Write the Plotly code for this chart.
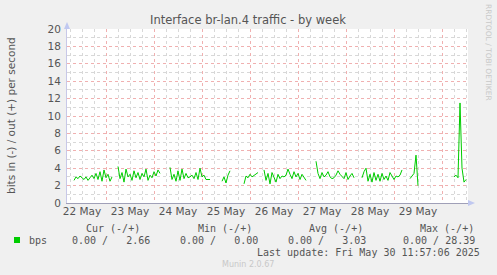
import pandas as pd
import plotly.graph_objects as go

# ---- data (hourly samples, bits/s out) ----
seg_starts = ["2025-05-22 08:00", "2025-05-23 06:00", "2025-05-24 08:00", "2025-05-25 10:00",
              "2025-05-25 21:00", "2025-05-26 07:00", "2025-05-27 09:00", "2025-05-28 08:00",
              "2025-05-29 08:00", "2025-05-30 06:00"]
seg_values = [
    [2.6, 3.0, 2.8, 3.1, 2.9, 2.7, 3.0, 2.6, 2.9, 3.2, 2.8, 3.4, 2.7, 3.6, 2.5, 3.8, 2.9, 3.3, 2.5, 3.0],
    [4.2, 2.8, 3.5, 2.4, 3.9, 3.0, 3.3, 2.6, 3.7, 2.9, 3.5, 2.7, 3.4, 3.0, 3.9, 2.6, 3.2, 2.9, 3.6, 3.1, 3.8, 3.4],
    [4.1, 2.7, 3.3, 2.5, 3.7, 2.6, 3.9, 2.8, 3.4, 2.9, 3.0, 3.2, 2.8, 3.5, 2.7, 4.0, 3.0, 3.2, 2.7, 2.7, 2.7],
    [2.5, 3.0, 2.3, 3.2, 3.7],
    [2.2, 3.1, 2.9, 3.3, 3.0, 3.2, 3.4, 3.5],
    [3.8, 2.6, 3.4, 2.2, 3.5, 3.0, 2.4, 3.3, 2.8, 3.1, 3.0, 3.2, 3.9, 3.3, 2.8, 3.6, 3.0, 3.4, 2.7, 3.3, 2.9, 2.6],
    [4.8, 3.4, 2.8, 3.5, 3.0, 3.2, 3.6, 3.0, 2.8, 2.9, 3.2, 3.7, 3.3, 3.1, 2.8, 3.5, 2.7, 3.1, 3.4, 2.9],
    [2.9, 3.6, 4.0, 2.5, 3.3, 2.4, 3.5, 2.6, 3.3, 2.5, 3.4, 2.7, 3.1, 2.6, 3.5, 3.0, 2.7, 3.1, 3.0, 3.2, 3.8],
    [2.8, 3.1, 3.4, 5.5, 2.0],
    [3.0, 3.2, 2.9, 11.5, 4.0, 2.4, 2.7],
]
day_labels = ["22 May", "23 May", "24 May", "25 May", "26 May", "27 May", "28 May", "29 May"]
day_label_pos = ["2025-05-22 12:00", "2025-05-23 12:00", "2025-05-24 12:00", "2025-05-25 12:00",
                 "2025-05-26 12:00", "2025-05-27 12:00", "2025-05-28 12:00", "2025-05-29 12:00"]
x_range = ["2025-05-22 04:30", "2025-05-30 13:00"]
y_ticks = [0, 2, 4, 6, 8, 10, 12, 14, 16, 18, 20]
legend_cur = "0.00 /   2.66"
legend_min = "0.00 /   0.00"
legend_avg = "0.00 /   3.03"
legend_max = "0.00 / 28.39"

xs, ys = [], []
for start, vals in zip(seg_starts, seg_values):
    t = pd.date_range(start, periods=len(vals), freq="h")
    xs += list(t) + [None]
    ys += list(vals) + [None]

W, H = 497, 275
L, R, T, B = 67, 468, 29, 203

def px(x):
    return (x - L) / (R - L)

def py(y):
    return (B - y) / (B - T)

fig = go.Figure()
fig.add_trace(go.Scatter(x=xs, y=ys, mode="lines", line=dict(color="#00CC00", width=1),
                         connectgaps=False, showlegend=False, hoverinfo="skip"))
# invisible trace for label axis
fig.add_trace(go.Scatter(x=[x_range[0]], y=[None], xaxis="x2", showlegend=False, hoverinfo="skip"))

tick_font = dict(family="DejaVu Sans", size=10.5, color="#555555")
fig.update_layout(
    width=W, height=H,
    margin=dict(l=L, r=W - R, t=T, b=H - B),
    paper_bgcolor="#F0F0F0", plot_bgcolor="#FFFFFF",
    xaxis=dict(type="date", range=x_range, tick0="2025-05-22 00:00", dtick=86400000,
               showticklabels=False, showgrid=True, gridcolor="#F0B0B0", griddash="dot", gridwidth=1,
               minor=dict(dtick=6 * 3600000, showgrid=True, gridcolor="#D8D8D8", griddash="dot"),
               showline=True, linecolor="#A0A0B8", linewidth=1, zeroline=False, ticks=""),
    xaxis2=dict(type="date", range=x_range, overlaying="x", anchor="y", side="bottom",
                tickvals=day_label_pos, ticktext=day_labels, showgrid=False, showline=False,
                tickfont=tick_font, ticks="", ticklen=0),
    yaxis=dict(range=[0, 20], tickvals=y_ticks, showgrid=True, gridcolor="#F0B0B0", griddash="dot",
               minor=dict(dtick=1, showgrid=True, gridcolor="#D8D8D8", griddash="dot"),
               tickfont=tick_font, showline=True, linecolor="#C8C8E8", zeroline=False, ticks="",
               ticklabelstandoff=3),
    font=dict(family="DejaVu Sans", color="#555555"),
)

ann = []
ann.append(dict(text="Interface br-lan.4 traffic - by week", x=px(248), y=py(20), xref="paper", yref="paper",
                showarrow=False, font=dict(size=11.5, color="#555555"), xanchor="center", yanchor="middle"))
ann.append(dict(text="bits in (-) / out (+) per second", x=px(11), y=py(116), xref="paper", yref="paper",
                showarrow=False, textangle=-90, font=dict(size=10.5, color="#555555"),
                xanchor="center", yanchor="middle"))
ann.append(dict(text="RRDTOOL / TOBI OETIKER", x=px(489), y=py(52), xref="paper", yref="paper",
                showarrow=False, textangle=90, font=dict(size=7.5, color="#C8C8C8"),
                xanchor="center", yanchor="middle"))
mono = dict(family="DejaVu Sans Mono", size=10, color="#555555")
for label, right in [("Cur (-/+)", 142), ("Min (-/+)", 254), ("Avg (-/+)", 365), ("Max (-/+)", 476)]:
    ann.append(dict(text=label, x=px(right), y=py(228), xref="paper", yref="paper", showarrow=False,
                    font=mono, xanchor="right", yanchor="middle"))
for val, right in [(legend_cur, 152), (legend_min, 260), (legend_avg, 368), (legend_max, 477)]:
    ann.append(dict(text=val.replace(" ", "&nbsp;"), x=px(right), y=py(240), xref="paper", yref="paper",
                    showarrow=False, font=mono, xanchor="right", yanchor="middle"))
ann.append(dict(text="bps", x=px(27), y=py(240), xref="paper", yref="paper", showarrow=False,
                font=mono, xanchor="left", yanchor="middle"))
ann.append(dict(text="Last update: Fri May 30 11:57:06 2025", x=px(482), y=py(252), xref="paper", yref="paper",
                showarrow=False, font=mono, xanchor="right", yanchor="middle"))
ann.append(dict(text="Munin 2.0.67", x=px(248), y=py(264), xref="paper", yref="paper", showarrow=False,
                font=dict(family="DejaVu Sans", size=8, color="#C8C8C8"), xanchor="center", yanchor="middle"))
fig.update_layout(annotations=ann)

shapes = [
    dict(type="rect", xref="paper", yref="paper", x0=px(14), x1=px(20), y0=py(243), y1=py(237),
         fillcolor="#00CC00", line=dict(width=0)),
    dict(type="path", xref="paper", yref="paper",
         path=f"M {px(64)} {py(29)} L {px(70)} {py(29)} L {px(67)} {py(22)} Z",
         fillcolor="#C0C8F0", line=dict(width=0)),
    dict(type="path", xref="paper", yref="paper",
         path=f"M {px(468)} {py(200)} L {px(468)} {py(206)} L {px(475)} {py(203)} Z",
         fillcolor="#C0C8F0", line=dict(width=0)),
]
fig.update_layout(shapes=shapes)

fig.write_html("out.html")
